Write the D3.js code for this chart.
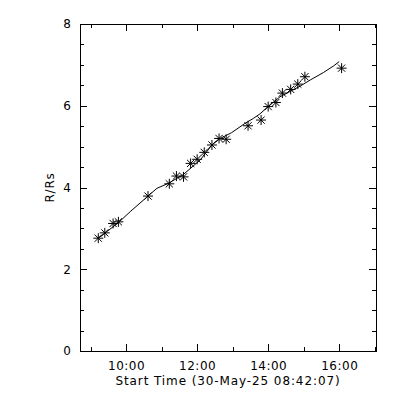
<!DOCTYPE html>
<html>
<head>
<meta charset="utf-8">
<script src="https://cdn.jsdelivr.net/npm/d3@7"></script>
<style>
  body { margin: 0; background: #fff; }
  text { font-family: "DejaVu Sans", sans-serif; font-size: 12px; fill: #000; }
</style>
</head>
<body>
<div id="chart"></div>
<script>
// observed points (time of frame, height in solar radii)
var obsTimes = ["09:13", "09:24", "09:38", "09:47", "10:37", "11:13", "11:25", "11:37",
  "11:49", "12:00", "12:12", "12:25", "12:37", "12:49", "13:26", "13:48", "14:00",
  "14:13", "14:24", "14:38", "14:50", "15:02", "16:04"];
var obsR = [2.76, 2.89, 3.12, 3.16, 3.79, 4.09, 4.28, 4.26, 4.59, 4.69, 4.86, 5.04,
  5.20, 5.18, 5.51, 5.65, 5.98, 6.08, 6.31, 6.40, 6.53, 6.71, 6.92];

// fitted height-time curve
var fitTimes = ["09:13", "09:47", "10:07", "10:37", "10:52", "11:11", "11:36", "12:05",
  "12:25", "12:39", "12:58", "13:21", "13:35", "13:46", "14:00", "14:20", "14:54",
  "15:11", "15:33", "15:50", "16:00"];
var fitR = [2.76, 3.14, 3.41, 3.79, 3.98, 4.10, 4.31, 4.67, 5.04, 5.20, 5.34, 5.57,
  5.69, 5.80, 5.98, 6.22, 6.48, 6.63, 6.81, 6.97, 7.08];

var xMajor = [10, 12, 14, 16];
var xMinor = [9, 11, 13, 15, 17];
var yMajor = [0, 2, 4, 6, 8];
var yMinor = [0.5, 1, 1.5, 2.5, 3, 3.5, 4.5, 5, 5.5, 6.5, 7, 7.5];

var startLabel = "30-May-25 08:42:07";
var xTitle = "Start Time (" + startLabel + ")";
var yTitle = "R/Rs";

var svgWidth = 400;
var svgHeight = 400;
var margin = { top: 24, right: 24, bottom: 49, left: 80 };
var width = svgWidth - margin.left - margin.right;
var height = svgHeight - margin.top - margin.bottom;

function toHours(s) {
  var p = s.split(":");
  return +p[0] + (+p[1]) / 60 + (p[2] ? +p[2] / 3600 : 0);
}

var xStart = toHours(startLabel.split(" ")[1]);
var xEnd = xStart + 30000 / 3600;

var svg = d3.select("#chart")
  .append("svg")
  .attr("width", svgWidth)
  .attr("height", svgHeight);

var chartGroup = svg.append("g")
  .attr("transform", `translate(${margin.left}, ${margin.top})`);

var xScale = d3.scaleLinear().domain([xStart, xEnd]).range([0, width]);
var yScale = d3.scaleLinear().domain([0, 8]).range([height, 0]);

function hhmm(h) {
  return (h < 10 ? "0" : "") + h + ":00";
}

// axes, ticks pointing inward
function drawAxis(axis, tx, ty, labels) {
  var g = chartGroup.append("g")
    .attr("transform", `translate(${tx}, ${ty})`)
    .attr("shape-rendering", "crispEdges")
    .call(axis);
  g.selectAll(".domain").attr("stroke", "#000").attr("stroke-width", 1);
  g.selectAll(".tick line").attr("stroke", "#000");
  g.selectAll("text").attr("font-family", null).attr("font-size", null);
  if (!labels) g.selectAll("text").remove();
  return g;
}

var bottom = drawAxis(d3.axisBottom(xScale).tickValues(xMajor).tickFormat(hhmm)
  .tickSizeInner(-7).tickSizeOuter(0).tickPadding(10), 0, height, true);
bottom.selectAll("text").style("letter-spacing", "0.5px");
drawAxis(d3.axisBottom(xScale).tickValues(xMinor).tickSize(-4), 0, height, false);
drawAxis(d3.axisTop(xScale).tickValues(xMajor).tickSizeInner(-7).tickSizeOuter(0), 0, 0, false);
drawAxis(d3.axisTop(xScale).tickValues(xMinor).tickSize(-4), 0, 0, false);

var left = drawAxis(d3.axisLeft(yScale).tickValues(yMajor).tickFormat(d3.format("d"))
  .tickSizeInner(-7).tickSizeOuter(0).tickPadding(9), 0, 0, true);
drawAxis(d3.axisLeft(yScale).tickValues(yMinor).tickSize(-4), 0, 0, false);
drawAxis(d3.axisRight(yScale).tickValues(yMajor).tickSizeInner(-7).tickSizeOuter(0), width, 0, false);
drawAxis(d3.axisRight(yScale).tickValues(yMinor).tickSize(-4), width, 0, false);

// fit curve
var fitData = fitTimes.map(function(t, i) {
  return { t: toHours(t), r: fitR[i] };
});
var line = d3.line()
  .x(function(d) { return xScale(d.t); })
  .y(function(d) { return yScale(d.r); });

chartGroup.append("path")
  .datum(fitData)
  .attr("d", line)
  .attr("fill", "none")
  .attr("stroke", "#000")
  .attr("stroke-width", 1);

// asterisk markers
var obsData = obsTimes.map(function(t, i) {
  return { t: toHours(t), r: obsR[i] };
});

function asterisk(d) {
  var cx = xScale(d.t), cy = yScale(d.r), r = 5, q = 3.6;
  var p = d3.path();
  p.moveTo(cx - r, cy); p.lineTo(cx + r, cy);
  p.moveTo(cx, cy - r); p.lineTo(cx, cy + r);
  p.moveTo(cx - q, cy - q); p.lineTo(cx + q, cy + q);
  p.moveTo(cx - q, cy + q); p.lineTo(cx + q, cy - q);
  return p.toString();
}

chartGroup.selectAll(".star")
  .data(obsData)
  .enter()
  .append("path")
  .attr("class", "star")
  .attr("d", asterisk)
  .attr("fill", "none")
  .attr("stroke", "#000")
  .attr("stroke-width", 1);

// axis titles
chartGroup.append("text")
  .attr("x", width / 2)
  .attr("y", height + 34)
  .attr("text-anchor", "middle")
  .style("letter-spacing", "0.9px")
  .text(xTitle);

chartGroup.append("text")
  .attr("transform", "rotate(-90)")
  .attr("x", -height / 2)
  .attr("y", -26)
  .attr("text-anchor", "middle")
  .style("letter-spacing", "0.8px")
  .text(yTitle);
</script>
</body>
</html>
